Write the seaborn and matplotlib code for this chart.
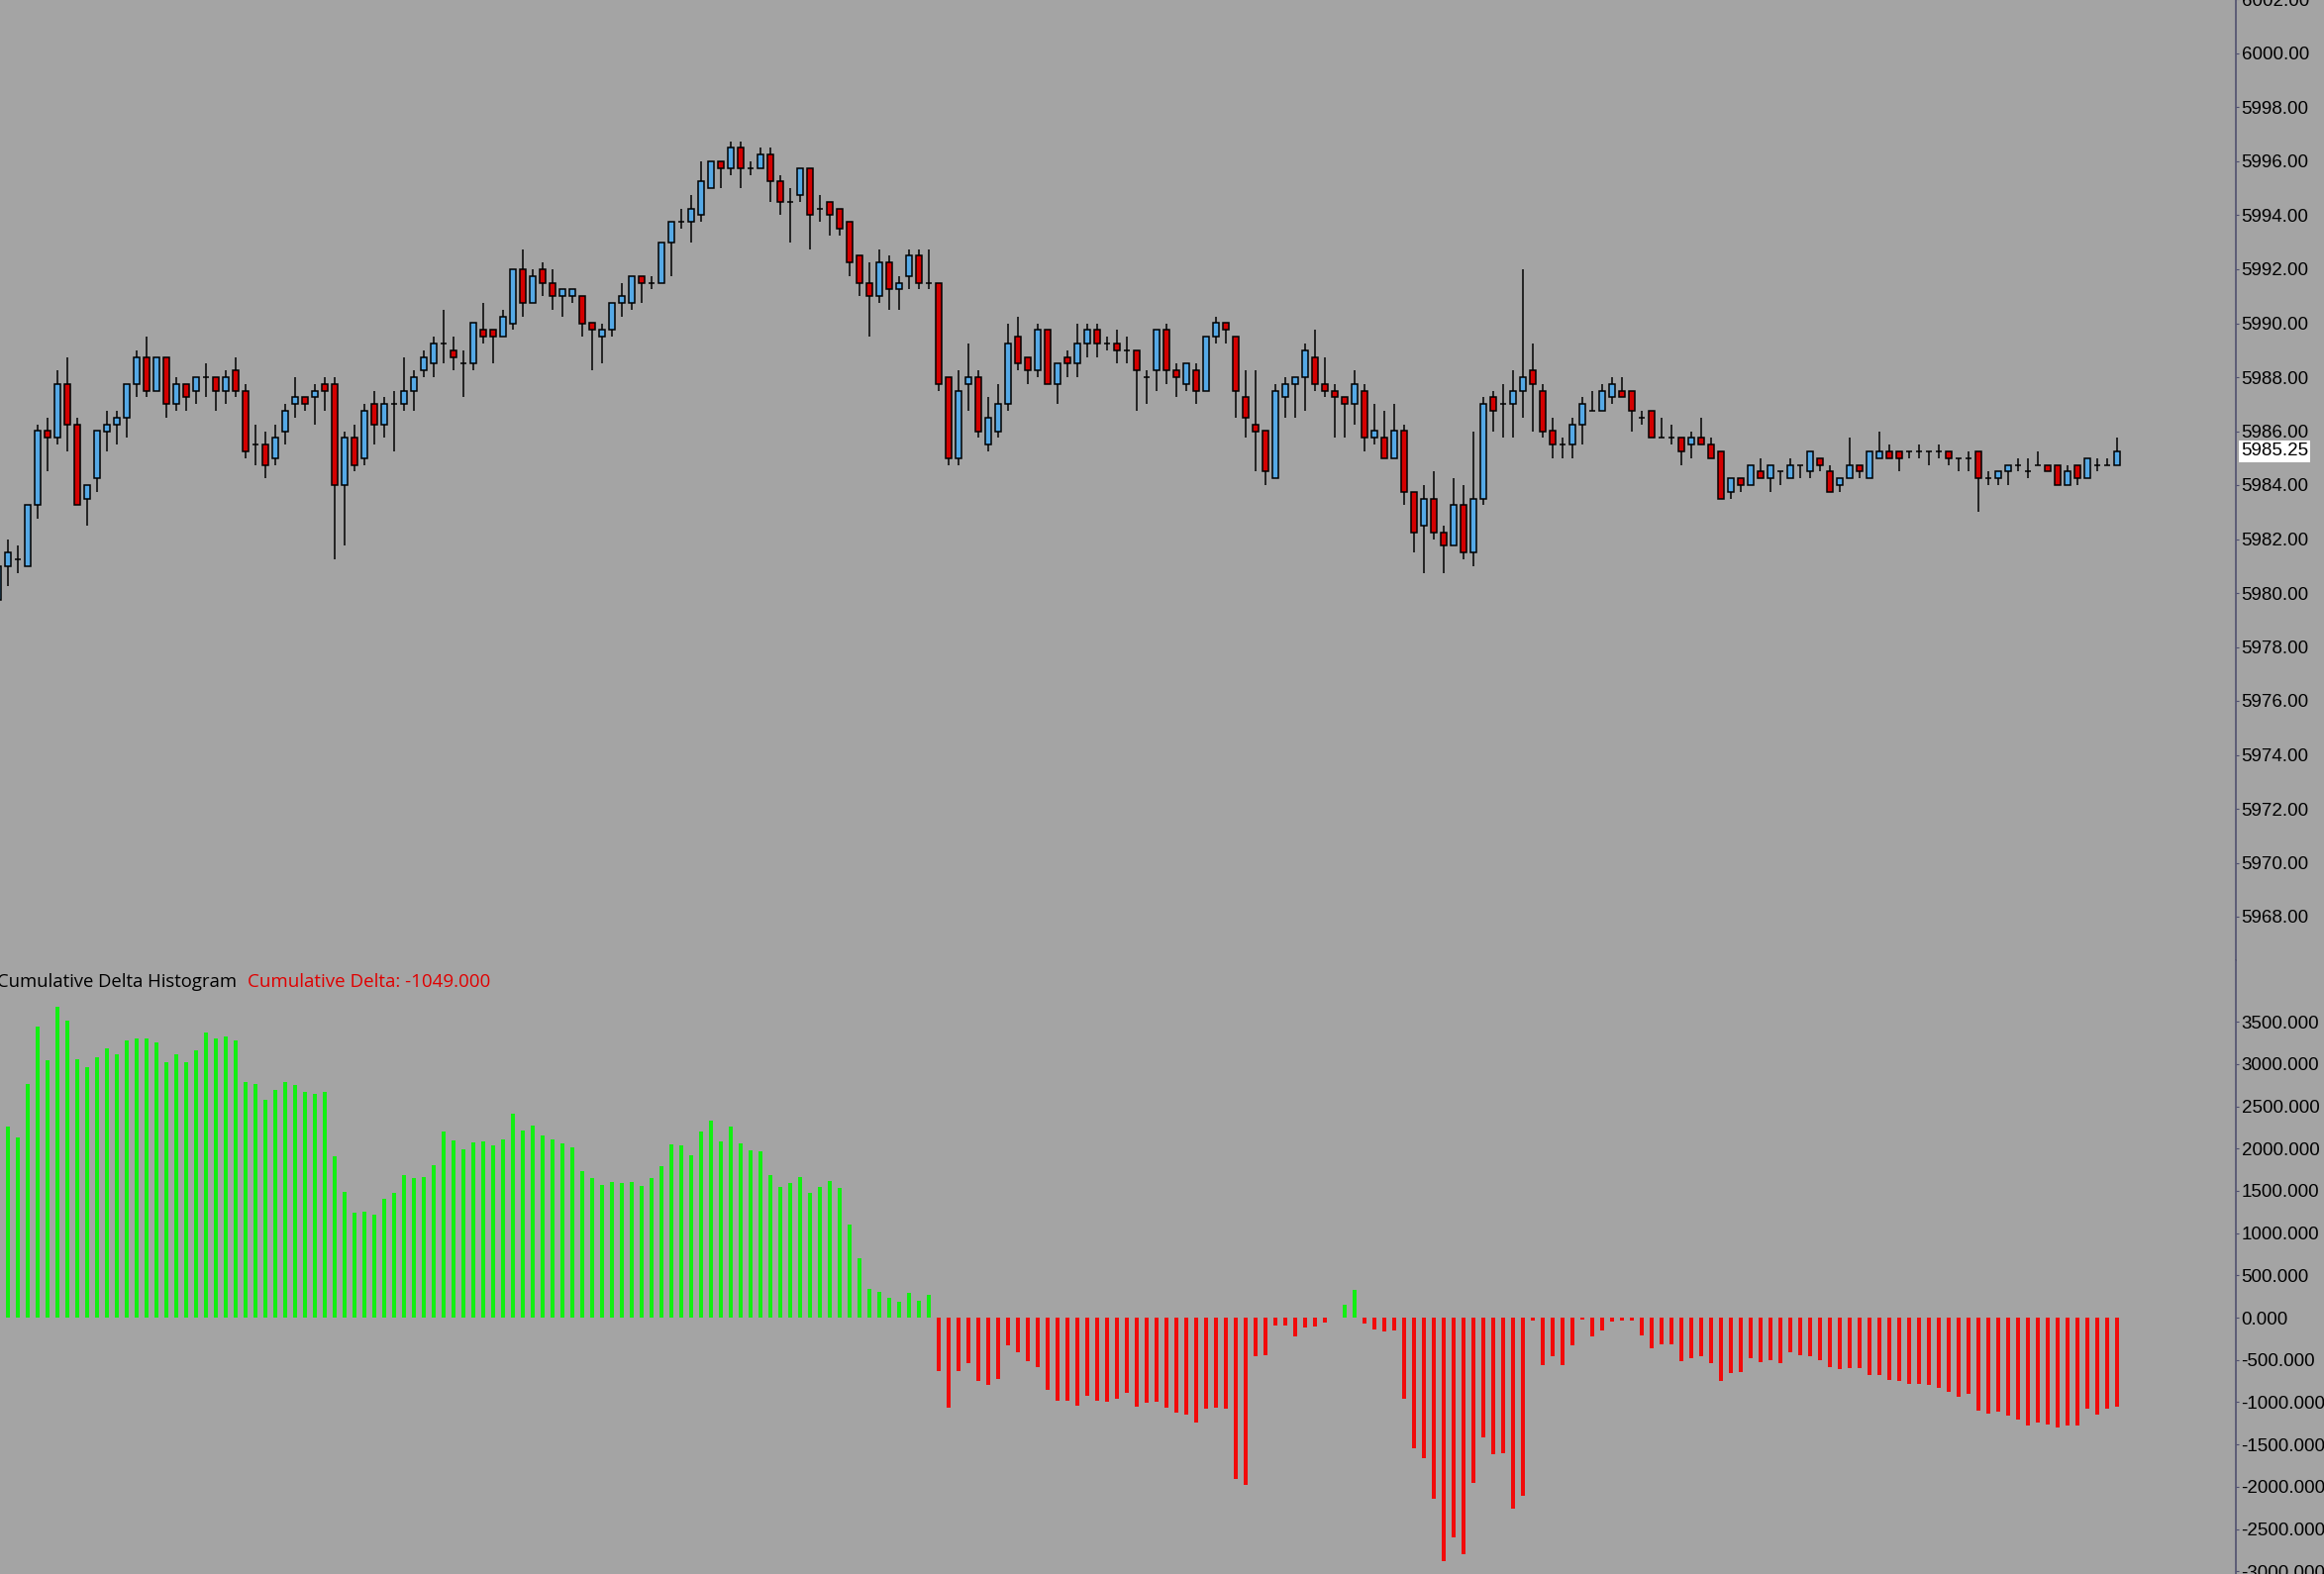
import numpy as np
import pandas as pd
import matplotlib
matplotlib.use("Agg")
import matplotlib.pyplot as plt
import seaborn as sns

# ---------------- data ----------------
open_ = [5979.75, 5981.0, 5981.25, 5981.0, 5983.25, 5986.0, 5985.75, 5987.75, 5986.25, 5983.5,
         5984.25, 5986.0, 5986.25, 5986.5, 5987.75, 5988.75, 5987.5, 5988.75, 5987.0, 5987.75,
         5987.5, 5988.0, 5988.0, 5987.5, 5988.25, 5987.5, 5985.5, 5985.5, 5985.0, 5986.0,
         5987.0, 5987.25, 5987.25, 5987.75, 5987.75, 5984.0, 5985.75, 5985.0, 5987.0, 5986.25,
         5987.0, 5987.0, 5987.5, 5988.25, 5988.5, 5989.25, 5989.0, 5988.5, 5988.5, 5989.75,
         5989.75, 5989.5, 5990.0, 5992.0, 5990.75, 5992.0, 5991.5, 5991.0, 5991.0, 5991.0,
         5990.0, 5989.5, 5989.75, 5990.75, 5990.75, 5991.75, 5991.5, 5991.5, 5993.0, 5993.75,
         5993.75, 5994.0, 5995.0, 5996.0, 5995.75, 5996.5, 5995.75, 5995.75, 5996.25, 5995.25,
         5994.5, 5994.75, 5995.75, 5994.25, 5994.5, 5994.25, 5993.75, 5992.5, 5991.5, 5991.0,
         5992.25, 5991.25, 5991.75, 5992.5, 5991.5, 5991.5, 5988.0, 5985.0, 5987.75, 5988.0,
         5985.5, 5986.0, 5987.0, 5989.5, 5988.75, 5988.25, 5989.75, 5987.75, 5988.75, 5988.5,
         5989.25, 5989.75, 5989.25, 5989.25, 5989.0, 5989.0, 5988.0, 5988.25, 5989.75, 5988.25,
         5987.75, 5988.25, 5987.5, 5989.5, 5990.0, 5989.5, 5987.25, 5986.25, 5986.0, 5984.25,
         5987.25, 5987.75, 5988.0, 5988.75, 5987.75, 5987.5, 5987.25, 5987.0, 5987.5, 5985.75,
         5985.75, 5985.0, 5986.0, 5983.75, 5982.5, 5983.5, 5982.25, 5981.75, 5983.25, 5981.5,
         5983.5, 5987.25, 5987.0, 5987.0, 5987.5, 5988.25, 5987.5, 5986.0, 5985.5, 5985.5,
         5986.25, 5986.75, 5986.75, 5987.25, 5987.5, 5987.5, 5986.5, 5986.75, 5985.75, 5985.75,
         5985.75, 5985.5, 5985.75, 5985.5, 5985.25, 5983.75, 5984.25, 5984.0, 5984.5, 5984.25,
         5984.5, 5984.25, 5984.75, 5984.5, 5985.0, 5984.5, 5984.0, 5984.25, 5984.75, 5984.25,
         5985.0, 5985.25, 5985.25, 5985.25, 5985.25, 5985.25, 5985.25, 5985.25, 5985.0, 5985.0,
         5985.25, 5984.25, 5984.25, 5984.5, 5984.75, 5984.5, 5984.75, 5984.75, 5984.75, 5984.0,
         5984.75, 5984.25, 5984.75, 5984.75, 5984.75]
high = [5981.0, 5982.0, 5981.75, 5983.25, 5986.25, 5986.5, 5988.25, 5988.75, 5986.5, 5984.0,
        5986.0, 5986.75, 5986.75, 5987.75, 5989.0, 5989.5, 5988.75, 5988.75, 5988.0, 5987.75,
        5988.0, 5988.5, 5988.0, 5988.25, 5988.75, 5987.75, 5986.25, 5986.0, 5986.25, 5987.0,
        5988.0, 5987.25, 5987.75, 5988.0, 5988.0, 5986.0, 5986.25, 5987.0, 5987.5, 5987.25,
        5987.5, 5988.75, 5988.25, 5989.0, 5989.5, 5990.5, 5989.5, 5989.0, 5990.0, 5990.75,
        5989.75, 5990.5, 5992.0, 5992.75, 5992.0, 5992.25, 5992.0, 5991.25, 5991.25, 5991.0,
        5990.0, 5990.0, 5990.75, 5991.5, 5991.75, 5991.75, 5991.75, 5993.0, 5993.75, 5994.25,
        5994.75, 5996.0, 5996.0, 5996.0, 5996.75, 5996.75, 5996.0, 5996.5, 5996.5, 5995.5,
        5995.0, 5995.75, 5995.75, 5994.75, 5994.5, 5994.25, 5993.75, 5992.5, 5992.25, 5992.75,
        5992.5, 5991.75, 5992.75, 5992.75, 5992.75, 5991.5, 5988.0, 5988.25, 5989.25, 5988.25,
        5987.25, 5987.75, 5990.0, 5990.25, 5988.75, 5990.0, 5989.75, 5988.5, 5989.0, 5990.0,
        5990.0, 5990.0, 5989.5, 5989.75, 5989.5, 5989.0, 5988.25, 5989.75, 5990.0, 5988.5,
        5988.5, 5988.5, 5989.5, 5990.25, 5990.0, 5989.5, 5988.25, 5988.25, 5986.0, 5987.75,
        5988.0, 5988.0, 5989.25, 5989.75, 5988.75, 5987.75, 5987.25, 5988.25, 5987.75, 5987.0,
        5986.75, 5987.0, 5986.25, 5983.75, 5984.0, 5984.5, 5982.5, 5984.25, 5984.0, 5986.0,
        5987.25, 5987.5, 5987.75, 5988.25, 5992.0, 5989.25, 5987.75, 5986.5, 5985.75, 5986.5,
        5987.25, 5987.5, 5987.75, 5988.0, 5988.0, 5987.5, 5986.75, 5986.75, 5986.5, 5986.25,
        5985.75, 5986.0, 5986.5, 5985.75, 5985.25, 5984.25, 5984.25, 5984.75, 5985.0, 5984.75,
        5984.5, 5985.0, 5984.75, 5985.25, 5985.0, 5984.75, 5984.25, 5985.75, 5984.75, 5985.25,
        5986.0, 5985.5, 5985.25, 5985.25, 5985.5, 5985.25, 5985.5, 5985.25, 5985.0, 5985.25,
        5985.25, 5984.5, 5984.5, 5984.75, 5985.0, 5985.0, 5985.25, 5984.75, 5984.75, 5984.75,
        5984.75, 5985.0, 5985.0, 5985.0, 5985.75]
low = [5978.75, 5980.25, 5980.75, 5981.0, 5982.75, 5984.5, 5985.5, 5985.25, 5983.25, 5982.5,
       5983.75, 5985.25, 5985.5, 5985.75, 5987.25, 5987.25, 5987.5, 5986.5, 5986.75, 5986.75,
       5987.0, 5987.25, 5986.75, 5987.0, 5987.25, 5985.0, 5984.75, 5984.25, 5984.75, 5985.5,
       5986.5, 5986.75, 5986.25, 5986.75, 5981.25, 5981.75, 5984.5, 5984.75, 5985.5, 5985.75,
       5985.25, 5986.75, 5986.75, 5988.0, 5988.0, 5988.5, 5988.25, 5987.25, 5988.25, 5989.25,
       5988.5, 5989.5, 5989.75, 5990.25, 5990.75, 5991.0, 5990.5, 5990.25, 5990.75, 5989.5,
       5988.25, 5988.5, 5989.5, 5990.25, 5990.5, 5990.75, 5991.25, 5991.5, 5991.75, 5993.5,
       5993.0, 5993.75, 5995.0, 5995.0, 5995.5, 5995.0, 5995.5, 5995.75, 5994.5, 5994.0,
       5993.0, 5994.5, 5992.75, 5993.75, 5993.25, 5993.25, 5991.75, 5991.0, 5989.5, 5990.75,
       5990.5, 5990.5, 5991.25, 5991.25, 5991.25, 5987.5, 5984.75, 5984.75, 5986.75, 5985.75,
       5985.25, 5985.75, 5986.75, 5988.25, 5987.75, 5988.0, 5987.75, 5987.0, 5988.0, 5988.0,
       5988.75, 5988.75, 5989.0, 5988.5, 5988.5, 5986.75, 5987.0, 5987.5, 5987.75, 5987.25,
       5987.5, 5987.0, 5987.5, 5989.25, 5989.25, 5986.5, 5985.75, 5984.5, 5984.0, 5984.25,
       5986.5, 5986.5, 5986.75, 5987.5, 5987.25, 5985.75, 5985.75, 5986.25, 5985.25, 5985.5,
       5985.0, 5985.0, 5983.25, 5981.5, 5980.75, 5982.0, 5980.75, 5981.75, 5981.25, 5981.0,
       5983.25, 5986.0, 5985.75, 5985.75, 5986.5, 5986.0, 5985.75, 5985.0, 5985.0, 5985.0,
       5985.5, 5986.75, 5986.75, 5987.0, 5987.25, 5986.0, 5986.25, 5985.75, 5985.75, 5985.5,
       5984.75, 5985.0, 5985.5, 5985.0, 5983.5, 5983.5, 5983.75, 5984.0, 5984.25, 5983.75,
       5984.0, 5984.25, 5984.25, 5984.25, 5984.5, 5983.75, 5983.75, 5984.25, 5984.25, 5984.25,
       5985.0, 5985.0, 5984.5, 5985.0, 5985.0, 5984.75, 5985.0, 5984.75, 5984.5, 5984.5,
       5983.0, 5984.0, 5984.0, 5984.0, 5984.5, 5984.25, 5984.75, 5984.5, 5984.0, 5984.0,
       5984.0, 5984.25, 5984.5, 5984.75, 5984.75]
close = [5981.0, 5981.5, 5981.25, 5983.25, 5986.0, 5985.75, 5987.75, 5986.25, 5983.25, 5984.0,
         5986.0, 5986.25, 5986.5, 5987.75, 5988.75, 5987.5, 5988.75, 5987.0, 5987.75, 5987.25,
         5988.0, 5988.0, 5987.5, 5988.0, 5987.5, 5985.25, 5985.5, 5984.75, 5985.75, 5986.75,
         5987.25, 5987.0, 5987.5, 5987.5, 5984.0, 5985.75, 5984.75, 5986.75, 5986.25, 5987.0,
         5987.0, 5987.5, 5988.0, 5988.75, 5989.25, 5989.25, 5988.75, 5988.5, 5990.0, 5989.5,
         5989.5, 5990.25, 5992.0, 5990.75, 5991.75, 5991.5, 5991.0, 5991.25, 5991.25, 5990.0,
         5989.75, 5989.75, 5990.75, 5991.0, 5991.75, 5991.5, 5991.5, 5993.0, 5993.75, 5993.75,
         5994.25, 5995.25, 5996.0, 5995.75, 5996.5, 5995.75, 5995.75, 5996.25, 5995.25, 5994.5,
         5994.5, 5995.75, 5994.0, 5994.25, 5994.0, 5993.5, 5992.25, 5991.5, 5991.0, 5992.25,
         5991.25, 5991.5, 5992.5, 5991.5, 5991.5, 5987.75, 5985.0, 5987.5, 5988.0, 5986.0,
         5986.5, 5987.0, 5989.25, 5988.5, 5988.25, 5989.75, 5987.75, 5988.5, 5988.5, 5989.25,
         5989.75, 5989.25, 5989.25, 5989.0, 5989.0, 5988.25, 5988.0, 5989.75, 5988.25, 5988.0,
         5988.5, 5987.5, 5989.5, 5990.0, 5989.75, 5987.5, 5986.5, 5986.0, 5984.5, 5987.5,
         5987.75, 5988.0, 5989.0, 5987.75, 5987.5, 5987.25, 5987.0, 5987.75, 5985.75, 5986.0,
         5985.0, 5986.0, 5983.75, 5982.25, 5983.5, 5982.25, 5981.75, 5983.25, 5981.5, 5983.5,
         5987.0, 5986.75, 5987.0, 5987.5, 5988.0, 5987.75, 5986.0, 5985.5, 5985.5, 5986.25,
         5987.0, 5986.75, 5987.5, 5987.75, 5987.25, 5986.75, 5986.5, 5985.75, 5985.75, 5985.75,
         5985.25, 5985.75, 5985.5, 5985.0, 5983.5, 5984.25, 5984.0, 5984.75, 5984.25, 5984.75,
         5984.5, 5984.75, 5984.75, 5985.25, 5984.75, 5983.75, 5984.25, 5984.75, 5984.5, 5985.25,
         5985.25, 5985.0, 5985.0, 5985.25, 5985.25, 5985.25, 5985.25, 5985.0, 5985.0, 5985.0,
         5984.25, 5984.25, 5984.5, 5984.75, 5984.75, 5984.5, 5984.75, 5984.5, 5984.0, 5984.5,
         5984.25, 5985.0, 5984.75, 5984.75, 5985.25]
cum_delta = [1717, 2263, 2126, 2759, 3438, 3040, 3672, 3508, 3052, 2958,
             3075, 3181, 3111, 3274, 3306, 3298, 3259, 3017, 3118, 3025,
             3157, 3376, 3298, 3329, 3274, 2790, 2767, 2572, 2697, 2790,
             2751, 2666, 2650, 2673, 1904, 1482, 1236, 1256, 1213, 1400,
             1471, 1682, 1651, 1659, 1799, 2197, 2096, 1994, 2068, 2088,
             2041, 2104, 2408, 2209, 2267, 2158, 2104, 2057, 2010, 1737,
             1650, 1569, 1608, 1589, 1600, 1553, 1647, 1788, 2045, 2033,
             1916, 2197, 2326, 2080, 2256, 2057, 1975, 1963, 1682, 1542,
             1589, 1659, 1471, 1542, 1612, 1530, 1097, 699, 336, 301,
             230, 183, 289, 195, 265, -632, -1066, -632, -539, -749,
             -796, -726, -328, -410, -515, -585, -855, -984, -984, -1042,
             -925, -984, -995, -960, -890, -1054, -1003, -995, -1066, -1124,
             -1148, -1241, -1077, -1066, -1077, -1909, -1979, -453, -445, -94,
             -94, -222, -117, -105, -59, 0, 148, 328, -70, -140,
             -164, -152, -960, -1546, -1663, -2143, -2880, -2599, -2798, -1955,
             -1417, -1616, -1604, -2260, -2108, -35, -562, -457, -562, -328,
             -20, -222, -152, -47, -35, -35, -211, -363, -316, -316,
             -515, -484, -457, -539, -749, -656, -644, -480, -527, -503,
             -539, -410, -445, -457, -503, -585, -609, -597, -597, -679,
             -679, -738, -749, -785, -785, -796, -831, -878, -937, -902,
             -1101, -1136, -1112, -1159, -1206, -1276, -1241, -1265, -1300, -1276,
             -1276, -1077, -1147, -1077, -1049]
price_ticks = list(range(5968, 6003, 2))
delta_ticks = list(range(-3000, 3501, 500))
last_price = 5985.25
title_text = "Cumulative Delta Histogram"
value_text = "Cumulative Delta: -1049.000"

# ---------------- style ----------------
sns.set_theme(style="white")
plt.rcParams['font.family'] = ['Liberation Sans', 'DejaVu Sans']

BG = '#a4a4a4'
UP = '#55a9e6'
DN = '#d40000'
POS = '#12f012'
NEG = '#f20a0a'
AXC = '#50506e'

W, H = 2347, 1590
fig = plt.figure(figsize=(W / 100, H / 100), dpi=100)
fig.patch.set_facecolor(BG)

split = 970          # pixel row between the two panels
axr = 2258           # pixel column of the price axis
top_ext = 20         # let the upper panel run past the top edge
bot_ext = 20         # and the lower one past the bottom edge

# price panel geometry: 6000 at y=54 px, 27.25 px per point
px_pt = 27.25
p_top = 6000 + (54 + top_ext) / px_pt
p_bot = 6000 - (split - 54) / px_pt
# delta panel: 0 at y=1331 px, 0.0854 px per unit
px_d = 0.0854
d_top = (1331 - split) / px_d
d_bot = (1331 - (H + bot_ext)) / px_d

ax1 = fig.add_axes([0, (H - split) / H, axr / W, (split + top_ext) / H])
ax2 = fig.add_axes([0, -bot_ext / H, axr / W, (H - split + bot_ext) / H])

n = len(open_)
x = np.arange(n)
o = np.array(open_); c = np.array(close); hh = np.array(high); ll = np.array(low)

# candles
ax1.vlines(x, ll, hh, color='black', linewidth=1.1, zorder=1)
body_bottom = np.minimum(o, c)
body_h = np.abs(c - o)
colors = np.where(c > o, UP, np.where(c < o, DN, 'black'))
ax1.bar(x, body_h, bottom=body_bottom, width=0.62, color=colors,
        edgecolor='black', linewidth=1.1, zorder=2)

# cumulative delta histogram
df = pd.DataFrame({'bar': x, 'delta': cum_delta,
                   'sign': np.where(np.array(cum_delta) >= 0, 'pos', 'neg')})
sns.barplot(data=df, x='bar', y='delta', hue='sign',
            palette={'pos': POS, 'neg': NEG}, native_scale=True, width=0.48,
            dodge=False, legend=False, errorbar=None, saturation=1,
            linewidth=0, ax=ax2)

for ax in (ax1, ax2):
    ax.set_facecolor(BG)
    ax.set_xlim(0.2, 226.0)
    ax.set_xticks([])
    ax.set_xlabel('')
    ax.set_ylabel('')
    ax.grid(False)
    for s in ['top', 'left', 'bottom']:
        ax.spines[s].set_visible(False)
    ax.spines['right'].set_color(AXC)
    ax.spines['right'].set_linewidth(1.2)
    ax.yaxis.tick_right()
    ax.tick_params(axis='y', direction='out', length=2.5, width=0.8, color=AXC,
                   pad=1.5, labelsize=13.5, labelcolor='black', right=True, left=False)

ax1.set_ylim(p_bot, p_top)
ax1.set_yticks(price_ticks)
ax1.set_yticklabels([f"{v:.2f}" for v in price_ticks])
ax2.set_ylim(d_bot, d_top)
ax2.set_yticks(delta_ticks)
ax2.set_yticklabels([f"{v:.3f}" for v in delta_ticks])

# last price tag
fig.text(2263 / W, 1 - 456 / H, f"{last_price:.2f}", fontsize=13.5, color='black',
         ha='left', va='center',
         bbox=dict(boxstyle='square,pad=0.12', facecolor='white', edgecolor='none'))

# indicator titles
t1 = fig.text(-3 / W, 1 - 992 / H, title_text, fontsize=12.5, color='black',
              ha='left', va='center', family=['Open Sans', 'DejaVu Sans'])
t2 = fig.text(250 / W, 1 - 992 / H, value_text, fontsize=12.5, color='#e00000',
              ha='left', va='center', family=['Open Sans', 'DejaVu Sans'])
fig.canvas.draw()
r = fig.canvas.get_renderer()
for t, target in ((t1, 243), (t2, 247)):
    w = t.get_window_extent(r).width
    t.set_fontsize(t.get_fontsize() * target / w)

fig.savefig('out.png', dpi=100, facecolor=BG)
